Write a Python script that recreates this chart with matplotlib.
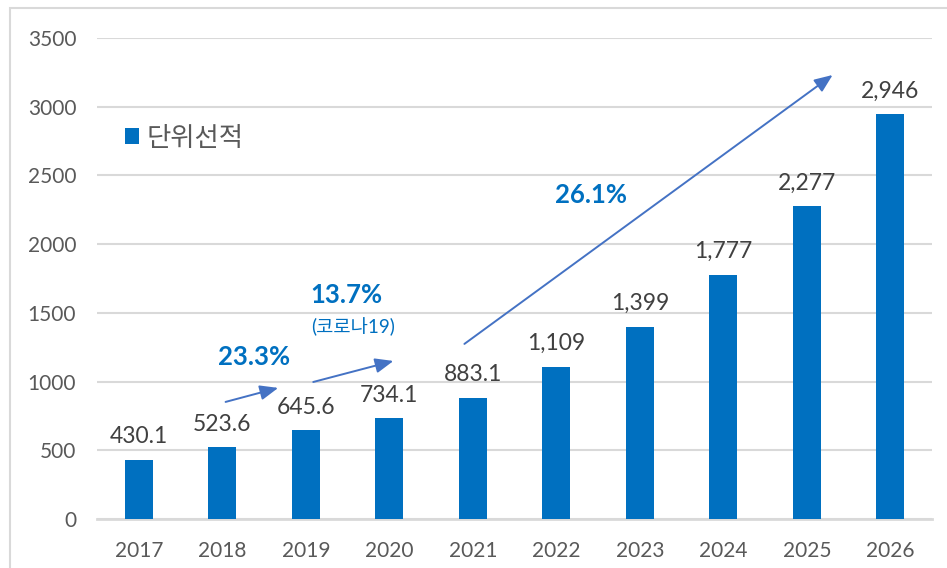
import matplotlib
matplotlib.use("Agg")
from matplotlib import pyplot as plt
from matplotlib.patches import Rectangle

plt.rcParams['font.family'] = ['Lato', 'Noto Sans CJK KR', 'DejaVu Sans']

years = ["2017", "2018", "2019", "2020", "2021", "2022", "2023", "2024", "2025", "2026"]
values = [430.1, 523.6, 645.6, 734.1, 883.1, 1109, 1399, 1777, 2277, 2946]
value_labels = ["430.1", "523.6", "645.6", "734.1", "883.1", "1,109", "1,399", "1,777", "2,277", "2,946"]
legend_label = "단위선적"

blue = "#0070C0"
arrow_blue = "#4472C4"
grid_gray = "#D9D9D9"

fig = plt.figure(figsize=(9.47, 5.68), dpi=100)
ax = fig.add_axes([97 / 947, 49 / 568, 835 / 947, 481 / 568])

# outer chart frame
fig.patches.append(Rectangle((10 / 947, -0.5), 1.5, 1.5 - 8 / 568, transform=fig.transFigure,
                             fill=False, edgecolor=grid_gray, linewidth=1.5))

x = range(len(years))
ax.bar(x, values, width=0.33, color=blue, label=legend_label, zorder=3)

for i, (v, s) in enumerate(zip(values, value_labels)):
    ax.annotate(s, (i, v), xytext=(0, 9), textcoords="offset points",
                ha="center", va="bottom", fontsize=16.5, color="#404040")

ax.set_xlim(-0.5, len(years) - 0.5)
ax.set_ylim(0, 3500)
ax.set_yticks(range(0, 3501, 500))
ax.set_xticks(list(x))
ax.set_xticklabels(years)
ax.tick_params(axis="both", length=0, labelsize=15, colors="#595959")
ax.tick_params(axis="x", pad=16)
ax.tick_params(axis="y", pad=15)
ax.grid(axis="y", color=grid_gray, linewidth=1.5, zorder=0)
for side in ["top", "right", "left"]:
    ax.spines[side].set_visible(False)
ax.spines["bottom"].set_color(grid_gray)
ax.spines["bottom"].set_linewidth(2)

# growth arrows
arrows = [((1.04, 852), (1.67, 954)), ((2.09, 997), (3.05, 1150)), ((3.90, 1274), (8.31, 3231))]
for start, end in arrows:
    ax.annotate("", xy=end, xytext=start,
                arrowprops=dict(arrowstyle="-|>,head_length=1.1,head_width=0.45",
                                color=arrow_blue, linewidth=1.4, shrinkA=0, shrinkB=0))

ax.text(1.38, 1179, "23.3%", ha="center", va="center", fontsize=18.5, fontweight="bold", color=blue)
ax.text(2.49, 1630, "13.7%", ha="center", va="center", fontsize=18.5, fontweight="bold", color=blue)
ax.text(2.57, 1397, "(코로나19)", ha="center", va="center", fontsize=13.5, color=blue)
ax.text(5.42, 2358, "26.1%", ha="center", va="center", fontsize=18.5, fontweight="bold", color=blue)

ax.legend(loc="center left", bbox_to_anchor=(0.005, 0.792), frameon=False, fontsize=19,
          handlelength=0.55, handleheight=0.55, handletextpad=0.25, labelcolor="#595959")

fig.savefig("out.png", dpi=100)
